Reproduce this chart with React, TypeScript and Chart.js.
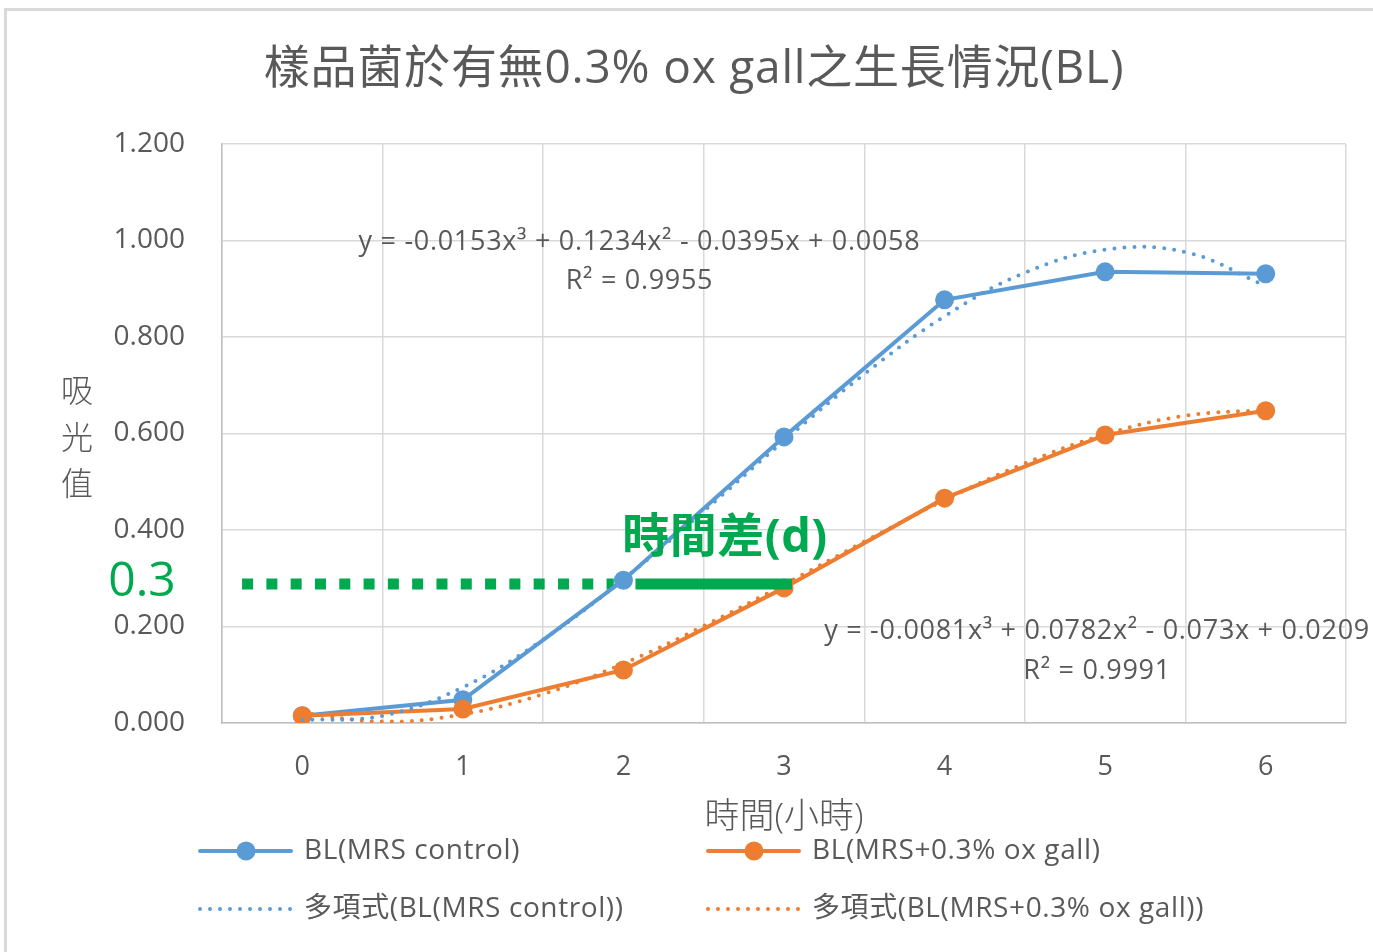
import React, { useEffect, useRef } from 'react';
import { Chart, registerables } from 'chart.js';
Chart.register(...registerables);

// ---- data ----
const hours = ['0', '1', '2', '3', '4', '5', '6'];
const controlOD = [0.015, 0.048, 0.296, 0.593, 0.877, 0.935, 0.931];
const oxGallOD = [0.015, 0.029, 0.110, 0.280, 0.466, 0.597, 0.647];
const trendX = [0, 0.5, 1, 1.5, 2, 2.5, 3, 3.5, 4, 4.5, 5, 5.5, 6];
const controlTrend = [0.006, 0.015, 0.074, 0.173, 0.298, 0.439, 0.585, 0.723, 0.843, 0.933, 0.981, 0.976, 0.906];
const oxGallTrend = [0.021, 0.003, 0.018, 0.060, 0.123, 0.201, 0.287, 0.376, 0.462, 0.538, 0.598, 0.637, 0.649];
const diffDottedX = [-0.375, 1.94];
const diffSolidX = [2.075, 3.05];
const diffLevel = 0.288;
const controlEquation = ['y = -0.0153x³ + 0.1234x² - 0.0395x + 0.0058', 'R² = 0.9955'];
const oxGallEquation = ['y = -0.0081x³ + 0.0782x² - 0.073x + 0.0209', 'R² = 0.9991'];
const chartTitle = '樣品菌於有無0.3% ox gall之生長情況(BL)';
const yTitle = ['吸', '光', '值'];
const xTitle = '時間(小時)';
const thresholdLabel = '0.3';
const diffLabel = '時間差(d)';

const BLUE = '#5b9bd5';
const ORANGE = '#ed7d31';
const GREEN = '#00a84f';
const GRAY = '#595959';
const FONT = "'Open Sans', 'Noto Sans CJK TC', sans-serif";

const textPlugin = {
  id: 'excelTexts',
  afterDraw(chart: any) {
    const ctx = chart.ctx;
    const x2 = chart.scales.x2;
    const y = chart.scales.y;
    const area = chart.chartArea;
    ctx.save();
    ctx.fillStyle = GRAY;
    ctx.textAlign = 'center';
    ctx.textBaseline = 'middle';
    // title
    ctx.font = `400 46px ${FONT}`;
    ctx.letterSpacing = '0.8px';
    ctx.fillText(chartTitle, 694, 70);
    ctx.letterSpacing = '0px';
    // y title stacked
    ctx.font = `300 32px ${FONT}`;
    yTitle.forEach((c, i) => ctx.fillText(c, 77, 393 + i * 46.5));
    // x title
    ctx.font = `300 35px ${FONT}`;
    ctx.fillText(xTitle, (area.left + area.right) / 2, 818);
    // equations
    ctx.font = `400 27px ${FONT}`;
    ctx.letterSpacing = '0.7px';
    ctx.fillText(controlEquation[0], x2.getPixelForValue(2.1), y.getPixelForValue(0.997));
    ctx.fillText(controlEquation[1], x2.getPixelForValue(2.1), y.getPixelForValue(0.916));
    ctx.fillText(oxGallEquation[0], x2.getPixelForValue(4.95), y.getPixelForValue(0.189));
    ctx.fillText(oxGallEquation[1], x2.getPixelForValue(4.95), y.getPixelForValue(0.108));
    ctx.letterSpacing = '0px';
    // green annotations
    ctx.fillStyle = GREEN;
    ctx.font = `400 48px ${FONT}`;
    ctx.fillText(thresholdLabel, 142, y.getPixelForValue(diffLevel) - 2);
    ctx.font = `700 47px ${FONT}`;
    ctx.letterSpacing = '0.5px';
    ctx.fillText(diffLabel, 725, 539);
    ctx.letterSpacing = '0px';

    // legend
    const cols = [200, 708];
    const rows = [851, 909];
    ctx.textAlign = 'left';
    ctx.font = `400 28px ${FONT}`;
    chart.data.datasets.forEach((ds: any) => {
      if (!ds.legendSlot) return;
      const [c, r] = ds.legendSlot;
      const lx = cols[c];
      const ly = rows[r];
      ctx.save();
      ctx.strokeStyle = ds.borderColor;
      ctx.lineWidth = ds.borderWidth;
      ctx.lineCap = ds.borderCapStyle || 'round';
      ctx.setLineDash(ds.borderDash || []);
      ctx.beginPath();
      ctx.moveTo(lx, ly);
      ctx.lineTo(lx + 91, ly);
      ctx.stroke();
      if (ds.pointRadius) {
        ctx.setLineDash([]);
        ctx.fillStyle = ds.backgroundColor;
        ctx.beginPath();
        ctx.arc(lx + 46, ly, ds.pointRadius, 0, Math.PI * 2);
        ctx.fill();
      }
      ctx.restore();
      ctx.fillStyle = GRAY;
      ctx.letterSpacing = '0.6px';
      ctx.fillText(ds.label, lx + 104, ly);
      ctx.letterSpacing = '0px';
    });
    ctx.restore();
  },
};

export default function App() {
  const ref = useRef<HTMLCanvasElement | null>(null);
  useEffect(() => {
    if (!ref.current) return;
    const trendStyle = {
      pointRadius: 0,
      borderWidth: 4,
      borderDash: [0, 10],
      borderCapStyle: 'round',
      tension: 0.4,
      fill: false,
    };
    const chart = new Chart(ref.current, {
      type: 'line',
      data: {
        labels: hours,
        datasets: [
          {
            label: 'BL(MRS control)',
            data: controlOD,
            borderColor: BLUE,
            backgroundColor: BLUE,
            borderWidth: 4,
            pointRadius: 9.5,
            pointBorderWidth: 0,
            pointBackgroundColor: BLUE,
            tension: 0,
            order: 3,
            legendSlot: [0, 0],
          } as any,
          {
            label: 'BL(MRS+0.3% ox gall)',
            data: oxGallOD,
            borderColor: ORANGE,
            backgroundColor: ORANGE,
            borderWidth: 4,
            pointRadius: 9.5,
            pointBorderWidth: 0,
            pointBackgroundColor: ORANGE,
            tension: 0,
            order: 2,
            legendSlot: [1, 0],
          } as any,
          {
            label: '多項式(BL(MRS control))',
            data: trendX.map((x, i) => ({ x, y: controlTrend[i] })),
            xAxisID: 'x2',
            borderColor: BLUE,
            order: 1,
            legendSlot: [0, 1],
            ...trendStyle,
          } as any,
          {
            label: '多項式(BL(MRS+0.3% ox gall))',
            data: trendX.map((x, i) => ({ x, y: oxGallTrend[i] })),
            xAxisID: 'x2',
            borderColor: ORANGE,
            order: 1,
            legendSlot: [1, 1],
            ...trendStyle,
          } as any,
          {
            label: 'diff-dotted',
            data: diffDottedX.map((x) => ({ x, y: diffLevel })),
            xAxisID: 'x2',
            borderColor: GREEN,
            borderWidth: 11,
            borderDash: [11, 13.3],
            borderCapStyle: 'butt',
            pointRadius: 0,
            order: 4,
          } as any,
          {
            label: 'diff-solid',
            data: diffSolidX.map((x) => ({ x, y: diffLevel })),
            xAxisID: 'x2',
            borderColor: GREEN,
            borderWidth: 11,
            borderCapStyle: 'butt',
            pointRadius: 0,
            order: 0,
          } as any,
        ],
      },
      options: {
        responsive: false,
        animation: false,
        devicePixelRatio: 1,
        layout: { padding: { top: 144, right: 27, left: 0, bottom: 0 } },
        plugins: {
          legend: { display: false },
          tooltip: { enabled: false },
          title: { display: false },
        },
        scales: {
          x: {
            type: 'category',
            offset: true,
            grid: { offset: true, color: '#d9d9d9', lineWidth: 1.5, drawTicks: false },
            border: { color: '#bfbfbf', width: 1.5 },
            ticks: { color: GRAY, font: { family: FONT, size: 27 }, padding: 28, maxRotation: 0 },
            afterFit: (s: any) => { s.height = 229; },
          },
          x2: {
            type: 'linear',
            display: false,
            min: -0.5,
            max: 6.5,
          },
          y: {
            min: 0,
            max: 1.2,
            ticks: {
              stepSize: 0.2,
              color: GRAY,
              font: { family: FONT, size: 28 },
              padding: 37,
              callback: (v: any) => Number(v).toFixed(3),
            },
            grid: { color: '#d9d9d9', lineWidth: 1.5, drawTicks: false },
            border: { color: '#bfbfbf', width: 1.5 },
            afterFit: (s: any) => { s.width = 222; },
          },
        },
      },
      plugins: [textPlugin],
    } as any);
    return () => chart.destroy();
  }, []);

  return (
    <div style={{ position: 'absolute', left: 0, top: 0, width: 1373, height: 952, overflow: 'hidden', background: '#fff' }}>
      <div style={{ position: 'absolute', left: 4, top: 8, width: 1400, height: 1000, border: '3px solid #d9d9d9', boxSizing: 'border-box' }} />
      <canvas ref={ref} width={1373} height={952} style={{ position: 'absolute', left: 0, top: 0 }} />
    </div>
  );
}
